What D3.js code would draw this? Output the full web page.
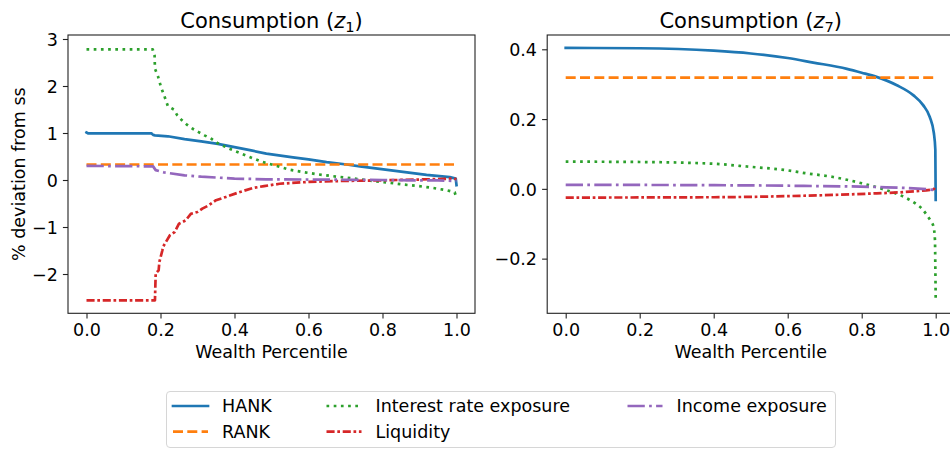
<!DOCTYPE html>
<html>
<head>
<meta charset="utf-8">
<script src="https://cdn.jsdelivr.net/npm/d3@7/dist/d3.min.js"></script>
<style>
    body { margin: 0; background: #fff; }
    text { font-family: "DejaVu Sans", sans-serif; fill: #000; }
</style>
</head>
<body>
<div id="chart"></div>
<script>
// ---------------- data ----------------
var xTicks = [0, 0.2, 0.4, 0.6, 0.8, 1.0];
var yTicksLeft = [-2, -1, 0, 1, 2, 3];
var yTicksRight = [-0.2, 0.0, 0.2, 0.4];

var seriesNames = ["HANK", "RANK", "Interest rate exposure", "Liquidity", "Income exposure"];

// left panel, Consumption (z1)
var hankP1 = [0, 0.005, 0.176, 0.18, 0.185, 0.22, 0.265, 0.31, 0.355, 0.40, 0.445, 0.486, 0.558, 0.60, 0.649, 0.703, 0.739, 0.829, 0.919, 0.982, 0.998, 1.0];
var hankV1 = [1.01, 0.99, 0.99, 0.96, 0.95, 0.93, 0.87, 0.82, 0.77, 0.70, 0.63, 0.56, 0.48, 0.44, 0.38, 0.33, 0.29, 0.20, 0.11, 0.06, 0.03, -0.11];
var rankP1 = [0, 1];
var rankV1 = [0.33, 0.33];
var rateP1 = [0, 0.179, 0.184, 0.185, 0.193, 0.202, 0.209, 0.220, 0.236, 0.245, 0.258, 0.271, 0.287, 0.303, 0.319, 0.337, 0.355, 0.385, 0.400, 0.422, 0.441, 0.473, 0.509, 0.549, 0.585, 0.626, 0.667, 0.703, 0.743, 0.782, 0.82, 0.86, 0.899, 0.937, 0.975, 0.995, 1.0];
var rateV1 = [2.78, 2.78, 2.65, 2.37, 2.21, 1.96, 1.82, 1.57, 1.50, 1.38, 1.27, 1.18, 1.09, 1.02, 0.95, 0.88, 0.78, 0.67, 0.62, 0.55, 0.49, 0.39, 0.31, 0.22, 0.17, 0.12, 0.08, 0.05, 0.01, -0.03, -0.06, -0.10, -0.13, -0.17, -0.22, -0.26, -0.38];
var liqP1 = [0, 0.185, 0.187, 0.195, 0.197, 0.205, 0.207, 0.216, 0.225, 0.238, 0.25, 0.268, 0.282, 0.3, 0.313, 0.33, 0.35, 0.377, 0.413, 0.45, 0.48, 0.522, 0.6, 0.69, 0.78, 0.9, 0.99, 1.0];
var liqV1 = [-2.56, -2.56, -1.99, -1.92, -1.74, -1.50, -1.42, -1.30, -1.18, -1.11, -0.93, -0.86, -0.72, -0.68, -0.61, -0.54, -0.43, -0.36, -0.26, -0.17, -0.13, -0.08, -0.04, -0.02, -0.01, 0.01, 0.03, 0.02];
var incP1 = [0, 0.18, 0.187, 0.21, 0.265, 0.31, 0.355, 0.40, 0.486, 0.6, 0.8, 0.95, 1.0];
var incV1 = [0.30, 0.29, 0.21, 0.16, 0.10, 0.07, 0.05, 0.03, 0.015, 0.01, 0.0, -0.01, -0.02];

// right panel, Consumption (z7)
var hankP7 = [0, 0.2, 0.4, 0.5, 0.6, 0.669, 0.76, 0.8, 0.84, 0.895, 0.94, 0.966, 0.984, 0.995, 0.999, 1.0];
var hankV7 = [0.404, 0.403, 0.396, 0.388, 0.375, 0.362, 0.344, 0.333, 0.321, 0.297, 0.268, 0.240, 0.206, 0.16, 0.112, -0.032];
var rankP7 = [0, 1];
var rankV7 = [0.319, 0.319];
var rateP7 = [0, 0.2, 0.4, 0.49, 0.6, 0.647, 0.723, 0.76, 0.8, 0.858, 0.912, 0.944, 0.962, 0.976, 0.986, 0.994, 0.998, 0.999, 1.0];
var rateV7 = [0.078, 0.077, 0.072, 0.064, 0.053, 0.045, 0.034, 0.026, 0.016, -0.001, -0.022, -0.041, -0.056, -0.075, -0.091, -0.108, -0.146, -0.223, -0.314];
var liqP7 = [0, 0.4, 0.633, 0.813, 0.93, 0.994, 1.0];
var liqV7 = [-0.025, -0.024, -0.02, -0.014, -0.008, -0.001, 0.009];
var incP7 = [0, 0.4, 0.633, 0.85, 0.994, 1.0];
var incV7 = [0.0115, 0.0105, 0.0086, 0.005, -0.003, -0.005];

// ---------------- styles ----------------
var colors = ["#1f77b4", "#ff7f0e", "#2ca02c", "#d62728", "#9467bd"];
var dashes = [null, "10 4.3", "2.7 4.5", "8.1 2.7 2.7 2.7", "17.3 4.3 2.7 4.3"];
var lineW = 2.7;
var fontSize = 17.5;

var svgWidth = 950, svgHeight = 449;
var svg = d3.select("#chart").append("svg")
    .attr("width", svgWidth)
    .attr("height", svgHeight);

// zip x / y arrays into point lists
function zip(p, v) {
    return p.map(function(d, i) { return [d, v[i]]; });
}

function drawPanel(box, yDomain, yTicks, yFmt, lines, sub, yLabel, curve) {
    var x = d3.scaleLinear().domain([-0.05, 1.05]).range([box.left, box.right]);
    var y = d3.scaleLinear().domain(yDomain).range([box.bottom, box.top]);
    var g = svg.append("g");

    var clipId = "clip" + sub;
    g.append("clipPath").attr("id", clipId)
        .append("rect")
        .attr("x", box.left).attr("y", box.top)
        .attr("width", box.right - box.left).attr("height", box.bottom - box.top);

    var line = d3.line().curve(curve).x(d => x(d[0])).y(d => y(d[1]));
    var plot = g.append("g").attr("clip-path", "url(#" + clipId + ")");
    lines.forEach(function(pts, i) {
        plot.append("path")
            .datum(pts)
            .attr("d", line)
            .attr("fill", "none")
            .attr("stroke", colors[i])
            .attr("stroke-width", lineW)
            .attr("stroke-dasharray", dashes[i])
            .attr("stroke-linecap", i == 0 ? "square" : "butt")
            .attr("stroke-linejoin", "round");
    });

    // axes
    var xAxis = d3.axisBottom(x).tickValues(xTicks).tickFormat(d3.format(".1f"))
        .tickSize(5.1).tickPadding(5.1).tickSizeOuter(0);
    var yAxis = d3.axisLeft(y).tickValues(yTicks).tickFormat(yFmt)
        .tickSize(5.1).tickPadding(5.1).tickSizeOuter(0);

    var gx = g.append("g").attr("transform", `translate(0,${box.bottom})`).call(xAxis);
    var gy = g.append("g").attr("transform", `translate(${box.left},0)`).call(yAxis);
    [gx, gy].forEach(function(a) {
        a.select(".domain").remove();
        a.attr("font-size", fontSize).attr("font-family", "DejaVu Sans");
        a.selectAll("line").attr("stroke", "#222").attr("stroke-width", 1.1);
    });
    gy.selectAll("text").attr("dy", "0.36em");

    // spines
    g.append("rect")
        .attr("x", box.left).attr("y", box.top)
        .attr("width", box.right - box.left).attr("height", box.bottom - box.top)
        .attr("fill", "none").attr("stroke", "#222").attr("stroke-width", 1.1);

    // title
    var cx = (box.left + box.right) / 2;
    var t = g.append("text")
        .attr("x", cx).attr("y", 28)
        .attr("text-anchor", "middle")
        .attr("font-size", 21);
    t.append("tspan").text("Consumption (");
    t.append("tspan").attr("font-style", "italic").text("z");
    t.append("tspan").attr("font-size", 14.7).attr("dy", 3.5).text(sub);
    t.append("tspan").attr("dy", -3.5).text(")");

    g.append("text")
        .attr("x", cx).attr("y", 358)
        .attr("text-anchor", "middle")
        .attr("font-size", fontSize)
        .text("Wealth Percentile");

    if (yLabel) {
        g.append("text")
            .attr("transform", `translate(25,${(box.top + box.bottom) / 2}) rotate(-90)`)
            .attr("text-anchor", "middle")
            .attr("font-size", fontSize)
            .text(yLabel);
    }
}

var fmtInt = d3.format("d");
var fmtDec = d3.format(".1f");

drawPanel({left: 68, right: 475, top: 35, bottom: 313.3}, [-2.836, 3.085], yTicksLeft, fmtInt,
    [zip(hankP1, hankV1), zip(rankP1, rankV1), zip(rateP1, rateV1), zip(liqP1, liqV1), zip(incP1, incV1)],
    "1", "% deviation from ss", d3.curveLinear);

drawPanel({left: 547.2, right: 954.2, top: 35, bottom: 313.3}, [-0.3567, 0.441], yTicksRight, fmtDec,
    [zip(hankP7, hankV7), zip(rankP7, rankV7), zip(rateP7, rateV7), zip(liqP7, liqV7), zip(incP7, incV7)],
    "7", null, d3.curveMonotoneX);

// ---------------- legend ----------------
var legend = svg.append("g");
legend.append("rect")
    .attr("x", 166.5).attr("y", 391.5)
    .attr("width", 669).attr("height", 56)
    .attr("rx", 3.5)
    .attr("fill", "#fff")
    .attr("stroke", "#d6d6d6")
    .attr("stroke-width", 1);

var colX = [173, 326.5, 627.5];
var rowY = [406, 431.7];
seriesNames.forEach(function(name, i) {
    var cx = colX[Math.floor(i / 2)];
    var cy = rowY[i % 2];
    legend.append("line")
        .attr("x1", cx).attr("x2", cx + 35)
        .attr("y1", cy).attr("y2", cy)
        .attr("stroke", colors[i])
        .attr("stroke-width", lineW)
        .attr("stroke-dasharray", dashes[i])
        .attr("stroke-linecap", i == 0 ? "square" : "butt");
    legend.append("text")
        .attr("x", cx + 49).attr("y", cy)
        .attr("dy", "0.36em")
        .attr("font-size", fontSize)
        .text(name);
});
</script>
</body>
</html>
